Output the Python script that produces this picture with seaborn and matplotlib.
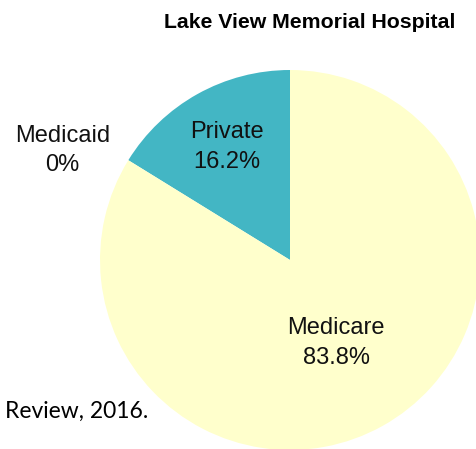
import numpy as np
import matplotlib
matplotlib.use("Agg")
import matplotlib.pyplot as plt
import seaborn as sns

sns.set_theme(style="white")
plt.rcParams['font.family'] = ['Liberation Sans', 'DejaVu Sans']

categories = ["Private", "Medicaid", "Medicare"]
values = [16.2, 0.0, 83.8]
value_labels = ["16.2%", "0%", "83.8%"]
colors = ["#43B6C4", "#FFFFFF", "#FFFFCC"]

W, H = 476, 449
fig = plt.figure(figsize=(W / 100, H / 100), dpi=100)
ax = fig.add_axes([0, 0, 1, 1])

cx, cy, r = 290, H - 260, 190
wedges, _ = ax.pie(values, colors=colors, startangle=90, counterclock=True,
                   radius=r, center=(cx, cy), frame=True,
                   wedgeprops=dict(linewidth=0))
ax.set_xlim(0, W)
ax.set_ylim(0, H)
ax.set_aspect("equal")
ax.axis("off")

dist = [0.68, 1.33, 0.50]
angle_shift = [0, 6, 0]
for w, name, vl, d, sh in zip(wedges, categories, value_labels, dist, angle_shift):
    mid = np.deg2rad((w.theta1 + w.theta2) / 2 + sh)
    ax.text(cx + d * r * np.cos(mid), cy + d * r * np.sin(mid), f"{name}\n{vl}",
            ha="center", va="center", fontsize=17, color="#111111", linespacing=1.45)

fig.text(310 / W, 1 - 22 / H, "Lake View Memorial Hospital", ha="center", va="center",
         fontsize=15.3, fontweight="bold", color="#000000")
fig.text(5 / W, 1 - 411 / H, "Review, 2016.", ha="left", va="center",
         fontsize=16.5, color="#000000", family=["Lato", "DejaVu Sans"])

fig.savefig("out.png", dpi=100, facecolor="white")
